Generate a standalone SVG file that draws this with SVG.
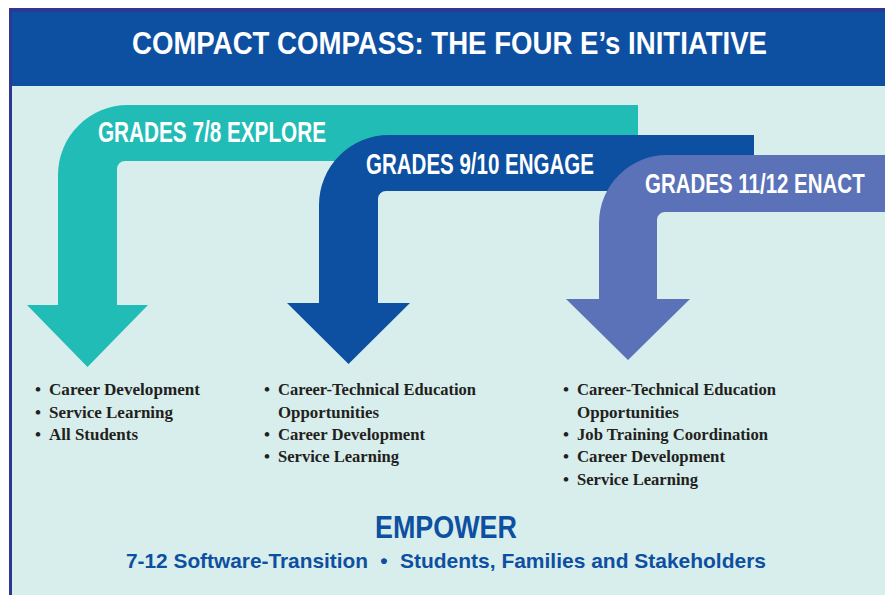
<svg xmlns="http://www.w3.org/2000/svg" width="885" height="595" viewBox="0 0 885 595">
  <style>
    .lbl { font-family: "Liberation Sans", Arial, sans-serif; font-weight: bold; fill: #ffffff; }
    .item { font-family: "Liberation Serif", "Times New Roman", serif; font-weight: bold; font-size: 17px; fill: #231f20; }
    .blue { font-family: "Liberation Sans", Arial, sans-serif; fill: #0d4fa1; }
  </style>
  <rect x="0" y="0" width="885" height="595" fill="#ffffff"/>
  <g id="frame">
    <rect x="9" y="8" width="876" height="587" fill="#2e3791"/>
    <rect x="12" y="12" width="873" height="74" fill="#0d4fa1"/>
    <rect x="12" y="86" width="873" height="509" fill="#d8eeec"/>
    <text class="lbl" x="132" y="54" font-size="32" textLength="635" lengthAdjust="spacingAndGlyphs">COMPACT COMPASS: THE FOUR E’s INITIATIVE</text>
  </g>
  <g id="connectors">
    <path id="arrow-explore" d="M 638 105 L 128 105 A 70 70 0 0 0 58 175 L 58 305 L 27 305 L 87.5 367 L 148 305 L 117 305 L 117 169 A 8 8 0 0 1 125 161 L 638 161 Z" fill="#21bcb6"/>
    <path id="arrow-engage" d="M 754 135 L 389 135 A 70 70 0 0 0 319 205 L 319 303 L 287 303 L 348.5 364 L 410 303 L 378 303 L 378 199 A 8 8 0 0 1 386 191 L 754 191 Z" fill="#0d4fa1"/>
    <path id="arrow-enact" d="M 885 155 L 667 155 A 68 68 0 0 0 599 223 L 599 299 L 566 299 L 628 360 L 690 299 L 657 299 L 657 220 A 8 8 0 0 1 665 212 L 885 212 Z" fill="#5b72b8"/>
  </g>
  <g id="explore">
    <text class="lbl" x="98" y="142" font-size="29" textLength="228" lengthAdjust="spacingAndGlyphs">GRADES 7/8 EXPLORE</text>
    <text class="item" x="38" y="395" text-anchor="middle">•</text>
    <text class="item" x="49" y="395" textLength="151" lengthAdjust="spacingAndGlyphs">Career Development</text>
    <text class="item" x="38" y="417.5" text-anchor="middle">•</text>
    <text class="item" x="49" y="417.5" textLength="124" lengthAdjust="spacingAndGlyphs">Service Learning</text>
    <text class="item" x="38" y="440" text-anchor="middle">•</text>
    <text class="item" x="49" y="440" textLength="89" lengthAdjust="spacingAndGlyphs">All Students</text>
  </g>
  <g id="engage">
    <text class="lbl" x="366" y="174" font-size="29" textLength="228" lengthAdjust="spacingAndGlyphs">GRADES 9/10 ENGAGE</text>
    <text class="item" x="267" y="395" text-anchor="middle">•</text>
    <text class="item" x="278" y="395" textLength="198" lengthAdjust="spacingAndGlyphs">Career-Technical Education</text>
    <text class="item" x="278" y="417.5" textLength="101" lengthAdjust="spacingAndGlyphs">Opportunities</text>
    <text class="item" x="267" y="440" text-anchor="middle">•</text>
    <text class="item" x="278" y="440" textLength="147" lengthAdjust="spacingAndGlyphs">Career Development</text>
    <text class="item" x="267" y="462" text-anchor="middle">•</text>
    <text class="item" x="278" y="462" textLength="121" lengthAdjust="spacingAndGlyphs">Service Learning</text>
  </g>
  <g id="enact">
    <text class="lbl" x="0" y="0" font-size="28" transform="translate(645,193) scale(0.732,1)">GRADES 11/12 ENACT</text>
    <text class="item" x="566" y="395" text-anchor="middle">•</text>
    <text class="item" x="577" y="395" textLength="199" lengthAdjust="spacingAndGlyphs">Career-Technical Education</text>
    <text class="item" x="577" y="417.5" textLength="102" lengthAdjust="spacingAndGlyphs">Opportunities</text>
    <text class="item" x="566" y="440" text-anchor="middle">•</text>
    <text class="item" x="577" y="440" textLength="191" lengthAdjust="spacingAndGlyphs">Job Training Coordination</text>
    <text class="item" x="566" y="462" text-anchor="middle">•</text>
    <text class="item" x="577" y="462" textLength="148" lengthAdjust="spacingAndGlyphs">Career Development</text>
    <text class="item" x="566" y="485" text-anchor="middle">•</text>
    <text class="item" x="577" y="485" textLength="121" lengthAdjust="spacingAndGlyphs">Service Learning</text>
  </g>
  <g id="empower">
    <text class="blue" x="375" y="538" font-size="32" font-weight="bold" textLength="142" lengthAdjust="spacingAndGlyphs">EMPOWER</text>
    <text class="blue" x="126" y="568" font-size="21" font-weight="bold" textLength="242" lengthAdjust="spacingAndGlyphs">7-12 Software-Transition</text>
    <text class="blue" x="384" y="568" font-size="21" font-weight="bold" text-anchor="middle">•</text>
    <text class="blue" x="400" y="568" font-size="21" font-weight="bold" textLength="366" lengthAdjust="spacingAndGlyphs">Students, Families and Stakeholders</text>
  </g>
</svg>
